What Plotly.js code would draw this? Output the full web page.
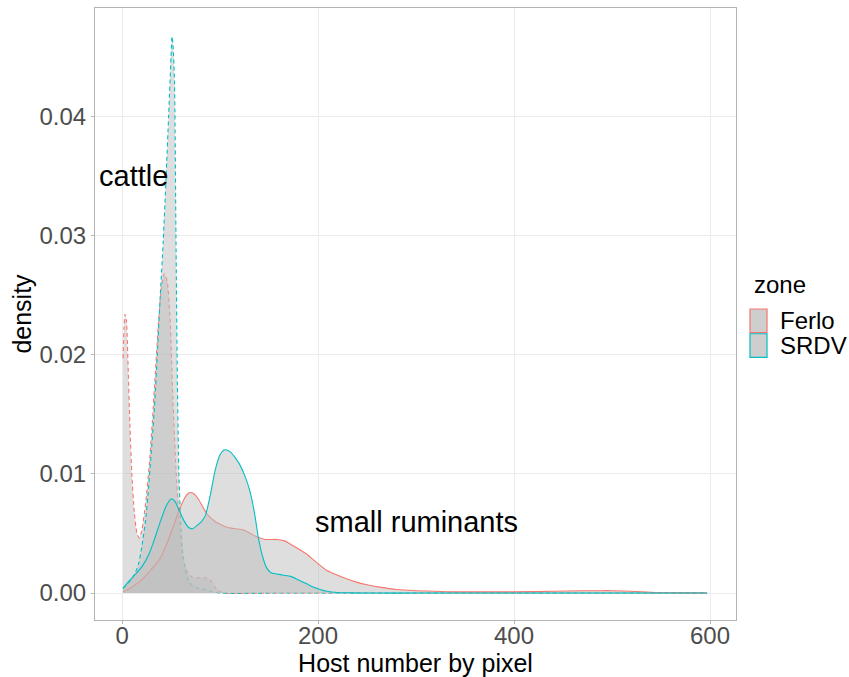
<!DOCTYPE html>
<html>
<head>
<meta charset="utf-8">
<script src="https://cdn.plot.ly/plotly-3.0.1.min.js"></script>
<style>html,body{margin:0;padding:0;background:#fff;}#chart{width:849px;height:677px;}</style>
</head>
<body>
<div id="chart"></div>
<script>
// Ferlo - cattle (dashed)
const ferloCattleX = [1, 2, 3, 4.5, 6, 8, 10, 12.5, 15, 17.5, 20, 24, 28, 31, 34, 37, 40, 43, 46, 49, 52, 55, 58, 61, 64, 68, 72, 78, 84, 90, 94, 98, 105, 150, 300, 450, 597];
const ferloCattleY = [0.0197, 0.0222, 0.0234, 0.0228, 0.0195, 0.0142, 0.0100, 0.0068, 0.0051, 0.0046, 0.0052, 0.0075, 0.0110, 0.0145, 0.0185, 0.0225, 0.0255, 0.0268, 0.0262, 0.0230, 0.0160, 0.0105, 0.0062, 0.0036, 0.0023, 0.0016, 0.0013, 0.0013, 0.0013, 0.0011, 0.0006, 0.0002, 0, 0, 0, 0, 0];
// SRDV - cattle (dashed)
const srdvCattleX = [1, 5, 10, 14, 17, 20, 24, 27, 30, 33, 36, 39, 42, 45, 47.5, 50, 51, 52, 53.5, 55, 56.5, 58, 60, 62, 65, 68, 72, 78, 85, 92, 100, 150, 300, 450, 597];
const srdvCattleY = [0.0004, 0.0007, 0.0012, 0.0018, 0.0025, 0.0038, 0.0061, 0.0088, 0.0120, 0.0155, 0.0200, 0.0250, 0.0295, 0.0350, 0.0400, 0.0450, 0.0467, 0.0460, 0.0430, 0.0300, 0.0175, 0.0100, 0.0058, 0.0034, 0.0018, 0.0010, 0.0006, 0.0004, 0.0003, 0.0001, 0, 0, 0, 0, 0];
// Ferlo - small ruminants (solid)
const ferloSrX = [1, 10, 20, 30, 38, 45, 52, 57, 60, 64, 68, 72, 77, 82, 87, 95, 102, 108, 116, 124, 131, 138, 146, 152, 158, 165, 170, 178, 188, 198, 209, 220, 229, 240, 250, 263, 280, 300, 320, 340, 365, 400, 440, 470, 485, 500, 520, 545, 570, 597];
const ferloSrY = [0.0001, 0.0005, 0.0011, 0.0020, 0.0028, 0.0040, 0.0055, 0.0067, 0.0073, 0.0080, 0.0084, 0.0084, 0.0080, 0.0073, 0.0066, 0.0060, 0.0057, 0.0055, 0.0054, 0.0053, 0.0050, 0.0047, 0.0045, 0.0045, 0.0045, 0.0044, 0.0042, 0.0038, 0.0033, 0.0026, 0.0019, 0.0015, 0.0012, 0.0009, 0.0007, 0.0005, 0.0003, 0.0002, 0.00015, 0.0001, 0.0001, 0.0001, 0.00015, 0.0002, 0.0002, 0.0002, 0.00015, 0.00005, 0.00002, 0];
// SRDV - small ruminants (solid)
const srdvSrX = [1, 7, 14, 21, 27.6, 33, 39.5, 45, 50, 54, 58, 63, 68, 72, 77, 81, 85, 90, 95, 100, 104, 107, 111, 116, 120, 125, 130, 135, 139, 143, 147, 152, 158, 165, 172, 180, 188, 195, 202, 209, 220, 235, 260, 300, 400, 500, 597];
const srdvSrY = [0.0004, 0.0010, 0.0016, 0.0023, 0.0033, 0.0045, 0.0061, 0.0073, 0.0079, 0.0077, 0.0070, 0.0061, 0.0055, 0.0054, 0.0057, 0.0060, 0.0065, 0.0082, 0.0103, 0.0116, 0.0120, 0.0120, 0.0118, 0.0113, 0.0108, 0.0099, 0.0087, 0.0068, 0.0047, 0.0032, 0.0022, 0.0017, 0.0016, 0.0015, 0.0014, 0.0011, 0.0008, 0.0005, 0.0003, 0.00015, 0.00005, 0.00002, 0, 0, 0, 0, 0];

const zones = ["Ferlo", "SRDV"];
const zoneColors = ["#F8766D", "#00BFC4"];
const legendTitle = "zone";
const labels = [{text: "cattle", x: 12, y: 0.035}, {text: "small ruminants", x: 300, y: 0.006}];

const FONT = "Liberation Sans, Arial, sans-serif";
const fillGrey = "rgba(190,190,190,0.5)";
function dens(x, y, color, dash) {
  return {x: x, y: y, type: "scatter", mode: "lines", fill: "tozeroy", fillcolor: fillGrey,
    line: {color: color, width: 1.1, dash: dash, shape: "spline", smoothing: 0.6},
    showlegend: false, hoverinfo: "skip"};
}
const traces = [
  dens(ferloCattleX, ferloCattleY, zoneColors[0], "4px,3px"),
  dens(srdvCattleX, srdvCattleY, zoneColors[1], "4px,3px"),
  dens(ferloSrX, ferloSrY, zoneColors[0], "solid"),
  dens(srdvSrX, srdvSrY, zoneColors[1], "solid")
];

// manual legend (paper coordinates) so the panel keeps its width
const shapes = [];
const annotations = labels.map(l => ({x: l.x, y: l.y, xref: "x", yref: "y", text: l.text, showarrow: false,
  xanchor: "center", yanchor: "middle", font: {family: FONT, size: 29, color: "#000"}}));
annotations.push({x: 1.025, y: 0.5474, xref: "paper", yref: "paper", text: legendTitle, showarrow: false,
  xanchor: "left", yanchor: "middle", font: {family: FONT, size: 24, color: "#000"}});
const keyTop = 0.5082, keyH = 0.0385;
zones.forEach((z, i) => {
  const y1 = keyTop - i * (keyH + 0.002), y0 = y1 - keyH;
  shapes.push({type: "rect", xref: "paper", yref: "paper", x0: 1.0218, x1: 1.0484, y0: y0, y1: y1,
    fillcolor: "rgba(190,190,190,0.75)", line: {color: zoneColors[i], width: 1.2}});
  annotations.push({x: 1.0655, y: (y0 + y1) / 2, xref: "paper", yref: "paper", text: z, showarrow: false,
    xanchor: "left", yanchor: "middle", font: {family: FONT, size: 24, color: "#000"}});
});

const tickFont = {family: FONT, size: 24, color: "#4d4d4d"};
const titleFont = {family: FONT, size: 25, color: "#000"};
const layout = {
  width: 849, height: 677,
  margin: {l: 95, r: 113, t: 8, b: 57},
  paper_bgcolor: "#fff", plot_bgcolor: "#fff",
  showlegend: false,
  xaxis: {range: [-27.6, 626.5], tickvals: [0, 200, 400, 600], ticktext: ["0", "200", "400", "600"],
    showgrid: true, gridcolor: "#ebebeb", gridwidth: 1, zeroline: false,
    showline: true, mirror: true, linecolor: "#b3b3b3", linewidth: 1,
    ticks: "outside", ticklen: 3, tickcolor: "#b3b3b3", tickfont: tickFont, ticklabelstandoff: -9,
    title: {text: "Host number by pixel", font: titleFont, standoff: 14}},
  yaxis: {range: [-0.00226, 0.0491], tickvals: [0, 0.01, 0.02, 0.03, 0.04],
    ticktext: ["0.00", "0.01", "0.02", "0.03", "0.04"],
    showgrid: true, gridcolor: "#ebebeb", gridwidth: 1, zeroline: false,
    showline: true, mirror: true, linecolor: "#b3b3b3", linewidth: 1,
    ticks: "outside", ticklen: 3, tickcolor: "#b3b3b3", tickfont: tickFont,
    title: {text: "density", font: titleFont, standoff: 0}},
  shapes: shapes,
  annotations: annotations
};
Plotly.newPlot("chart", traces, layout, {displayModeBar: false, staticPlot: true});
</script>
</body>
</html>
